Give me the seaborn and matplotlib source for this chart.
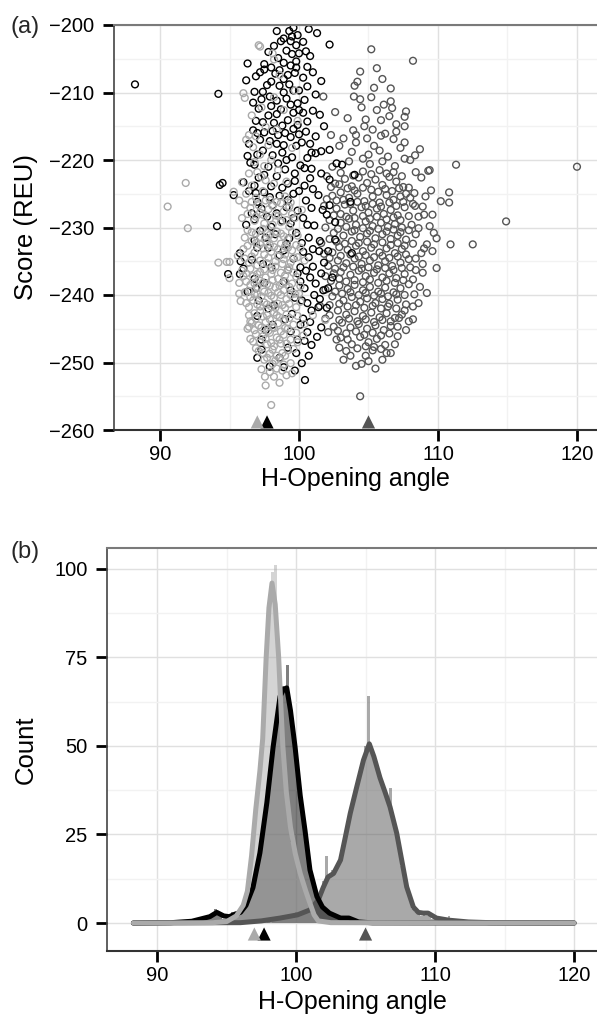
import numpy as np
import pandas as pd
import seaborn as sns
import matplotlib.pyplot as plt
from matplotlib.ticker import MultipleLocator

# group colours
c_dark = '#555555'
c_black = '#000000'
c_light = '#aaaaaa'

# ---- panel (a): H-opening angle vs score, one list per structure ----
dark_pts = [
    (105.2, -203.6), (108.2, -205.3), (104.4, -206.9), (105.6, -206.4), (104.2, -208.4), (105.4, -209.3),
    (106.6, -209.4), (101.75, -210.6), (103.95, -210.6), (104.4, -211.0), (105.2, -210.7), (104.5, -212.2),
    (106.6, -211.3), (106.7, -212.3), (107.7, -212.8), (106.5, -213.5), (102.6, -212.9), (107.6, -213.6),
    (107.6, -215.0), (105.9, -214.1), (103.9, -215.6), (104.1, -216.3), (104.7, -215.0), (105.3, -215.5),
    (106.2, -216.1), (102.3, -216.3), (102.9, -217.9), (104.1, -217.4), (105.4, -217.9), (105.8, -218.6),
    (107.6, -217.4), (107.3, -218.2), (108.7, -218.4), (108.35, -219.3), (108.0, -220.0), (109.3, -221.6),
    (109.4, -221.5), (111.3, -220.7), (120.0, -221.0), (108.4, -221.8), (106.4, -219.5), (104.6, -219.8),
    (103.6, -220.2), (102.4, -221.0), (105.1, -220.6), (106.9, -220.9),
    (103.5, -213.8), (104.8, -214.0), (105.6, -212.6), (106.1, -211.8), (107.0, -214.7), (103.2, -216.8),
    (104.9, -216.8), (105.9, -216.4), (106.8, -216.9), (103.8, -218.8), (105.0, -219.2), (106.0, -220.2),
    (107.6, -219.8), (107.0, -215.8), (104.0, -209.0), (106.0, -208.0),
    (109.5, -224.5), (108.0, -225.6), (108.35, -226.8), (110.2, -226.1), (110.8, -226.3), (110.8, -224.8),
    (109.6, -228.1), (108.6, -228.4), (109.0, -228.1), (114.9, -229.1),
    (108.8, -222.6), (109.1, -225.4), (108.9, -226.9), (109.4, -229.8), (109.6, -233.5), (108.9, -236.7),
    (109.2, -239.7), (108.6, -241.2), (108.2, -243.6), (109.7, -230.8),
    (102.0, -222.4), (102.6, -223.5), (103.3, -222.8), (103.8, -223.9), (104.3, -222.6), (104.9, -223.4),
    (105.5, -222.9), (106.0, -223.7), (106.5, -222.5), (107.0, -223.2), (107.5, -224.0), (102.4, -225.3),
    (103.0, -224.8), (103.6, -225.6), (104.2, -225.0), (104.7, -226.1), (105.3, -225.4), (105.8, -226.3),
    (106.3, -225.2), (106.8, -225.9), (107.3, -225.4), (107.9, -224.1), (101.8, -226.8), (102.7, -227.2),
    (103.3, -226.6), (103.9, -227.5), (104.5, -227.0), (105.0, -227.8), (105.6, -227.2), (106.1, -228.0),
    (106.6, -227.4), (107.1, -228.2), (107.6, -227.0), (102.2, -228.9), (103.0, -229.3), (103.6, -228.7),
    (104.1, -229.6), (104.8, -229.1), (105.3, -229.8), (105.9, -229.3), (106.4, -229.9), (106.9, -229.5),
    (107.4, -230.0), (108.1, -229.6),
    (103.0, -221.9), (103.9, -222.3), (104.6, -221.7), (105.2, -222.1), (105.8, -221.5), (106.3, -222.0),
    (106.8, -221.8), (107.4, -222.4), (102.3, -224.0), (102.9, -223.6), (103.5, -224.2), (104.0, -224.5),
    (104.6, -224.1), (105.2, -224.4), (105.7, -224.7), (106.2, -224.3), (106.7, -224.6), (107.2, -224.2),
    (107.7, -225.0), (108.3, -224.9), (102.0, -225.8), (102.7, -226.0), (103.2, -225.9), (103.7, -226.5),
    (104.2, -226.2), (104.8, -226.8), (105.3, -226.5), (105.9, -226.9), (106.5, -226.3), (107.0, -226.8),
    (107.5, -226.2), (108.2, -226.5), (102.5, -228.2), (103.0, -228.0), (103.4, -228.4), (104.0, -228.6),
    (104.6, -228.3), (105.1, -228.7), (105.6, -228.4), (106.3, -228.8), (106.8, -228.5), (107.3, -228.9),
    (107.9, -228.3),
    (102.5, -230.8), (103.2, -231.2), (103.8, -230.6), (104.4, -231.4), (104.9, -230.9), (105.5, -231.6),
    (106.0, -231.0), (106.6, -231.7), (107.1, -231.2), (107.7, -231.8), (108.4, -231.0), (109.2, -232.5),
    (109.9, -231.6), (110.9, -232.5), (112.5, -232.5), (101.6, -232.3), (102.9, -232.9), (103.5, -233.3),
    (104.1, -232.7), (104.6, -233.5), (105.2, -233.0), (105.8, -233.7), (106.3, -233.1), (106.9, -233.8),
    (107.4, -233.2), (108.8, -233.8), (102.2, -234.5), (102.8, -234.9), (103.4, -235.3), (104.0, -234.6),
    (104.5, -235.4), (105.1, -234.9), (105.7, -235.6), (106.2, -235.0), (106.7, -235.7), (107.3, -235.2),
    (107.9, -234.7), (109.9, -236.0), (108.4, -236.3), (103.0, -236.6), (103.7, -237.0), (104.3, -236.4),
    (104.8, -237.2), (105.4, -236.7), (106.0, -237.4), (106.5, -236.8), (107.0, -237.5), (107.6, -236.9),
    (101.9, -237.2), (102.5, -236.8),
    (101.9, -230.0), (102.8, -230.2), (103.4, -229.9), (104.0, -230.4), (104.6, -230.1), (105.1, -230.5),
    (105.7, -230.2), (106.3, -230.6), (106.8, -230.3), (107.3, -230.7), (107.9, -230.4), (108.6, -230.1),
    (102.2, -231.7), (102.7, -232.1), (103.3, -232.4), (103.8, -232.0), (104.3, -232.3), (104.9, -232.1),
    (105.4, -232.5), (106.0, -232.2), (106.6, -232.6), (107.1, -232.3), (107.6, -232.7), (108.2, -232.4),
    (109.0, -233.1), (101.8, -233.9), (102.4, -233.7), (103.0, -234.2), (103.7, -234.0), (104.3, -234.3),
    (104.8, -234.1), (105.4, -234.4), (106.0, -234.2), (106.5, -234.5), (107.1, -234.3), (107.7, -234.0),
    (108.4, -234.6), (102.1, -235.7), (102.6, -236.1), (103.2, -235.9), (103.9, -235.8), (104.5, -236.1),
    (105.0, -235.9), (105.6, -236.2), (106.2, -236.0), (106.8, -236.3), (107.4, -236.0), (108.0, -235.9),
    (108.9, -235.4),
    (108.7, -238.8), (102.9, -238.6), (103.5, -239.1), (104.0, -238.5), (104.6, -239.3), (105.1, -238.8),
    (105.7, -239.5), (106.2, -238.9), (106.8, -239.6), (107.3, -239.0), (107.9, -238.4), (102.4, -240.2),
    (103.2, -240.8), (103.8, -240.3), (104.4, -241.0), (104.9, -240.5), (105.5, -241.2), (106.0, -240.6),
    (106.5, -241.3), (107.1, -240.7), (107.7, -241.4), (108.2, -241.7), (101.5, -241.6), (102.8, -242.3),
    (103.4, -242.9), (104.0, -242.4), (104.6, -243.1), (105.2, -242.6), (105.8, -243.3), (106.3, -242.7),
    (106.9, -243.4), (107.4, -242.9), (102.5, -244.7), (103.1, -244.1), (103.7, -244.8), (104.3, -244.3),
    (104.9, -245.0), (105.5, -244.5), (106.1, -245.2), (106.6, -244.6), (107.1, -244.7), (107.7, -245.2),
    (101.9, -243.5),
    (102.3, -237.9), (102.9, -237.6), (103.4, -238.0), (104.0, -237.8), (104.6, -238.1), (105.1, -237.7),
    (105.7, -238.2), (106.3, -237.9), (106.9, -238.2), (107.5, -237.8), (108.2, -237.7), (101.9, -239.2),
    (102.6, -239.5), (103.1, -239.8), (103.7, -239.6), (104.3, -240.0), (104.8, -239.7), (105.4, -240.1),
    (105.9, -239.8), (106.4, -240.2), (107.0, -239.9), (107.6, -240.0), (108.3, -239.9), (102.2, -241.5),
    (102.9, -241.3), (103.5, -241.7), (104.1, -241.5), (104.7, -241.9), (105.3, -241.6), (105.9, -242.0),
    (106.4, -241.7), (107.0, -242.0), (107.6, -242.3), (102.2, -243.0), (102.9, -243.7), (103.6, -243.5),
    (104.2, -243.9), (104.8, -243.6), (105.4, -244.0), (106.0, -243.7), (106.6, -243.9), (107.2, -243.4),
    (107.9, -243.9), (102.1, -245.5), (102.8, -245.3), (103.4, -245.7), (104.1, -245.4), (104.7, -245.9),
    (105.3, -245.6), (105.9, -246.0), (106.5, -245.7), (107.1, -246.1),
    (102.7, -246.6), (103.0, -246.3), (103.5, -246.6), (103.8, -247.3), (104.4, -246.2), (105.0, -247.0),
    (105.6, -246.5), (106.2, -247.4), (106.6, -248.6), (106.3, -248.6), (103.7, -249.0), (104.8, -249.0),
    (105.3, -248.2), (105.5, -250.9), (104.4, -255.0), (104.1, -250.5), (106.0, -249.6),
    (102.9, -247.8), (103.4, -248.3), (104.2, -247.9), (104.8, -247.6), (105.4, -247.7), (105.9, -248.0),
    (106.9, -247.3), (103.2, -249.6), (104.5, -250.2), (105.0, -249.8),
]

black_pts = [
    (99.6, -200.4), (98.7, -202.4), (99.5, -201.7), (99.4, -202.4), (98.2, -203.1), (100.3, -202.5),
    (101.3, -201.2), (102.2, -202.9), (100.0, -204.2), (99.1, -203.8), (98.5, -204.9), (99.8, -205.4),
    (97.5, -205.8), (96.3, -205.7), (100.8, -204.6), (99.3, -200.9),
    (98.4, -200.9), (99.9, -201.5), (100.7, -200.6), (98.9, -202.0), (99.8, -203.0), (100.5, -203.9),
    (97.8, -204.0), (98.9, -205.6), (99.5, -204.3), (98.0, -206.3), (99.4, -206.0), (100.6, -206.2),
    (97.2, -207.0), (98.6, -206.7), (99.7, -207.1), (101.0, -207.0), (97.7, -208.9), (99.3, -208.8),
    (100.6, -209.1), (101.2, -210.3), (98.9, -210.0), (97.3, -211.0), (100.4, -211.1), (98.0, -212.0),
    (99.4, -211.8), (100.0, -212.6), (98.4, -213.2), (101.5, -213.3), (97.4, -214.4), (98.8, -214.9),
    (100.6, -214.3), (99.6, -215.4), (97.0, -216.0), (98.1, -215.7), (99.0, -216.0), (100.0, -216.2),
    (101.8, -215.0), (96.4, -217.6), (98.4, -217.6), (99.8, -217.9), (100.8, -217.6),
    (99.8, -206.3), (97.5, -206.6), (96.9, -207.6), (96.2, -208.2), (100.3, -207.8), (101.6, -208.3),
    (98.3, -207.2), (98.9, -208.0), (99.2, -207.4), (98.6, -209.0), (100.0, -209.7), (99.6, -209.7),
    (96.8, -209.9), (97.4, -209.9), (97.9, -210.6), (96.7, -211.5), (98.4, -211.2), (99.1, -210.9),
    (99.9, -211.6), (94.2, -210.2), (88.2, -208.8), (98.0, -208.4),
    (97.1, -212.4), (101.0, -212.7), (100.3, -213.0), (99.6, -213.0), (98.7, -212.5), (97.8, -213.4),
    (96.9, -214.2), (98.2, -214.5), (99.2, -214.1), (99.9, -214.8), (100.5, -215.8), (96.7, -215.6),
    (97.5, -215.9), (98.5, -216.3), (99.4, -216.6), (97.9, -217.2), (100.2, -217.4), (98.9, -217.8),
    (97.2, -217.0), (101.2, -216.5),
    (96.3, -219.4), (96.5, -220.4), (96.8, -220.7), (100.9, -218.9), (101.6, -218.7), (102.2, -218.5),
    (101.2, -219.0), (100.6, -219.7), (102.7, -220.5), (103.1, -220.7), (97.4, -218.6), (98.1, -219.3),
    (98.8, -218.9), (99.5, -219.6), (100.1, -220.8), (97.8, -221.0), (99.0, -221.4), (99.7, -222.0),
    (100.9, -221.3), (98.4, -222.4), (97.1, -222.6), (104.0, -222.2), (102.2, -222.9), (96.0, -223.3),
    (94.3, -223.7), (94.5, -223.4), (99.2, -223.5), (100.4, -223.8), (98.0, -223.9),
    (97.0, -219.2), (99.1, -220.0), (100.4, -221.2), (98.5, -220.5), (97.5, -222.2), (99.7, -223.1),
    (101.6, -222.0), (100.8, -222.7), (96.8, -223.8), (98.8, -224.1), (100.0, -224.6), (101.0, -224.3),
    (97.9, -225.5), (99.2, -225.9), (96.9, -224.9), (100.9, -227.1), (98.4, -227.9), (101.7, -227.4),
    (97.3, -227.2), (99.6, -228.6), (100.6, -229.6), (98.0, -229.9), (96.8, -228.8), (102.6, -229.2),
    (95.3, -225.2), (96.4, -224.6), (97.5, -224.8), (98.6, -225.3), (99.6, -225.0), (101.4, -225.2),
    (100.5, -226.0), (97.0, -226.2), (98.1, -226.7), (102.2, -226.7), (103.7, -226.2), (99.1, -227.0),
    (99.9, -227.5), (96.6, -227.9), (102.0, -228.1), (100.3, -228.6), (97.7, -228.4), (98.8, -229.0),
    (94.1, -229.8), (96.2, -229.6), (99.4, -229.4), (101.1, -229.7),
    (97.2, -230.5), (98.3, -231.0), (99.8, -230.8), (100.7, -231.5), (96.8, -231.9), (101.5, -232.0),
    (99.1, -232.4), (97.8, -233.0), (100.3, -233.6), (101.45, -233.5), (102.1, -233.5), (103.8, -233.8),
    (95.75, -233.8), (98.6, -234.1), (99.6, -234.6), (95.8, -235.0), (96.6, -234.8), (101.0, -235.8),
    (97.4, -235.4), (100.1, -235.9),
    (97.6, -231.5), (99.3, -231.6), (100.2, -232.3), (101.0, -233.2), (98.9, -233.4), (97.0, -233.0),
    (102.6, -231.8), (100.7, -234.4), (101.8, -235.2), (98.0, -235.9), (99.2, -236.3), (100.5, -236.4),
    (101.6, -236.8), (97.5, -238.2), (100.1, -238.0), (102.4, -237.4), (99.4, -239.3), (96.9, -239.0),
    (96.0, -236.1), (94.9, -236.9), (95.75, -236.9), (99.9, -236.8), (100.8, -237.4), (96.8, -237.6),
    (98.9, -238.0), (101.2, -238.3), (100.4, -239.0), (96.3, -239.5), (101.75, -239.3), (102.1, -239.0),
    (101.1, -240.0), (99.7, -240.4), (97.1, -240.8), (100.6, -241.2), (98.2, -241.5), (101.4, -241.8),
    (101.5, -240.6), (100.2, -240.8), (97.8, -242.0), (100.9, -242.3), (102.0, -241.9), (99.0, -243.6),
    (100.8, -244.0), (98.1, -244.4), (97.3, -246.6), (100.4, -246.8), (101.6, -244.8), (99.4, -245.4),
    (100.3, -243.5), (100.1, -244.4), (97.0, -243.1), (99.5, -242.8), (100.6, -245.5), (101.3, -246.2),
    (97.6, -245.2), (99.9, -246.6), (100.9, -247.4), (97.3, -248.1), (99.8, -248.6), (98.6, -249.3),
    (97.9, -250.6), (100.43, -252.6), (99.2, -247.8), (100.2, -250.1),
    (98.9, -250.7), (97.0, -249.3), (100.7, -249.0), (99.7, -251.2),
]

light_pts = [
    (97.1, -203.0), (97.2, -203.2), (98.1, -204.2), (98.2, -205.1), (98.6, -207.4), (96.0, -210.1),
    (96.1, -210.8), (98.2, -210.7), (97.3, -212.2), (98.9, -212.6), (96.2, -217.0), (96.4, -216.3),
    (97.6, -215.1), (98.4, -215.5), (96.7, -218.1), (97.2, -219.2), (99.5, -218.2), (98.0, -220.0),
    (95.9, -223.3), (95.3, -224.7), (96.4, -222.0), (97.0, -221.8), (97.6, -223.0), (98.5, -221.5),
    (91.85, -223.4), (90.55, -226.9), (92.0, -230.1), (99.9, -214.2), (99.7, -209.7),
    (96.8, -220.3), (97.5, -220.9), (96.6, -223.8), (98.2, -223.5), (99.1, -223.2), (97.3, -222.5),
    (96.1, -226.6), (99.4, -226.3), (95.7, -226.0), (96.9, -216.5), (97.8, -217.8), (96.6, -213.4),
    (96.2, -225.0), (96.9, -225.6), (97.4, -224.6), (97.9, -225.9), (98.4, -226.2), (99.0, -225.4),
    (96.5, -227.1), (97.2, -227.8), (97.8, -227.3), (98.3, -228.2), (98.9, -227.6), (99.5, -228.0),
    (96.8, -229.0), (97.5, -229.4), (98.1, -229.6), (98.7, -229.2), (99.3, -229.9), (100.2, -227.4),
    (95.9, -228.6),
    (96.6, -226.2), (97.1, -226.7), (97.6, -226.0), (98.1, -226.8), (98.7, -226.4), (99.3, -226.9),
    (96.3, -228.0), (96.9, -228.4), (97.4, -228.1), (97.9, -228.7), (98.5, -228.3), (99.1, -228.9),
    (99.7, -228.6),
    (96.3, -230.4), (96.9, -230.9), (97.4, -230.2), (97.9, -231.1), (98.4, -230.6), (98.9, -231.3),
    (99.5, -230.7), (96.6, -232.0), (97.2, -232.5), (97.7, -232.2), (98.2, -232.9), (98.7, -232.4),
    (99.2, -233.0), (99.8, -232.6), (96.0, -233.2), (96.8, -233.7), (97.5, -234.0), (98.0, -233.6),
    (98.5, -234.3), (99.0, -234.0), (99.6, -234.5), (96.4, -235.2), (97.0, -235.6), (97.7, -235.3),
    (98.3, -235.8), (98.8, -235.4), (99.3, -235.9), (94.8, -235.1), (95.0, -235.1), (94.2, -235.2),
    (100.4, -234.9), (95.6, -234.2),
    (96.1, -231.5), (96.6, -230.7), (97.2, -231.4), (97.7, -230.8), (98.2, -231.6), (98.7, -230.9),
    (99.2, -231.7), (99.9, -231.2), (96.3, -232.7), (96.9, -232.3), (97.4, -233.1), (97.9, -232.6),
    (98.5, -233.2), (99.0, -232.8), (99.5, -233.4), (100.1, -233.0), (96.1, -234.6), (96.6, -234.3),
    (97.2, -234.9), (97.8, -234.5), (98.3, -235.0), (98.9, -234.7), (99.4, -235.2), (99.9, -234.4),
    (95.0, -237.5), (95.7, -238.2), (96.2, -236.8), (96.7, -237.2), (97.2, -236.6), (97.6, -237.4),
    (98.0, -236.9), (98.5, -237.6), (99.0, -237.1), (99.6, -236.7), (96.5, -238.5), (97.0, -238.8),
    (97.4, -238.2), (97.9, -238.6), (98.3, -238.9), (98.8, -238.3), (99.3, -238.8), (96.1, -239.6),
    (96.8, -239.9), (97.3, -240.2), (97.8, -239.7), (98.2, -240.4), (98.7, -240.0), (99.1, -240.6),
    (99.7, -239.8), (96.5, -240.3), (96.4, -241.8), (97.0, -241.4), (97.5, -241.1), (98.0, -241.7),
    (98.5, -241.3), (99.0, -241.9), (100.1, -241.0), (95.8, -240.9),
    (95.9, -236.4), (96.5, -236.1), (97.0, -236.9), (97.5, -236.2), (98.1, -236.3), (98.7, -236.7),
    (99.2, -236.3), (99.8, -237.3), (96.2, -238.0), (96.8, -238.3), (97.2, -237.9), (97.7, -238.4),
    (98.1, -237.8), (98.6, -238.6), (99.0, -238.0), (99.5, -238.3), (100.1, -238.7), (95.7, -239.8),
    (96.4, -239.4), (97.0, -239.9), (97.5, -239.5), (98.0, -240.1), (98.5, -239.6), (98.9, -239.3),
    (99.4, -240.0), (100.0, -239.8), (96.2, -241.2), (96.7, -240.8), (97.2, -241.7), (97.7, -241.4),
    (98.3, -241.9), (98.8, -241.5), (99.3, -241.3), (99.8, -241.8), (96.0, -237.2),
    (96.8, -242.7), (97.2, -242.4), (97.7, -243.0), (98.2, -242.6), (98.6, -243.3), (99.1, -242.9),
    (101.0, -243.0), (101.9, -243.7), (96.6, -244.1), (97.1, -244.5), (97.6, -244.0), (98.1, -244.8),
    (98.5, -244.2), (99.0, -244.9), (99.6, -244.4), (96.9, -245.8), (97.4, -246.1), (97.9, -245.6),
    (98.4, -246.3), (98.9, -245.9), (99.4, -246.6), (96.7, -246.9), (97.7, -247.3), (98.2, -247.6),
    (98.7, -247.2), (99.6, -248.0), (100.3, -246.0), (96.3, -245.0),
    (96.4, -243.0), (96.9, -243.5), (97.4, -243.2), (97.9, -243.6), (98.4, -243.0), (98.9, -243.7),
    (99.3, -243.4), (99.9, -243.1), (100.4, -244.3), (96.4, -244.7), (96.8, -245.2), (97.3, -244.8),
    (97.8, -245.3), (98.2, -244.9), (98.7, -245.4), (99.2, -245.0), (99.8, -245.6), (96.5, -246.5),
    (97.2, -247.0), (97.6, -246.5), (98.0, -247.1), (98.6, -246.6), (99.1, -247.2), (99.9, -247.0),
    (96.5, -243.9),
    (97.1, -248.3), (97.9, -248.7), (98.4, -249.0), (99.0, -249.0), (98.6, -249.4), (99.4, -250.1),
    (97.5, -249.6), (98.4, -250.9), (99.5, -251.6), (97.55, -252.1), (97.6, -253.4), (98.2, -252.1),
    (98.0, -256.3), (98.8, -251.2), (98.1, -250.2), (97.3, -251.0), (98.6, -253.0),
    (96.9, -247.9), (97.4, -248.6), (98.1, -248.1), (98.8, -248.6), (99.2, -248.2), (97.7, -249.3),
    (98.3, -249.7), (98.9, -250.3), (97.9, -251.4), (99.1, -251.9),
]

# reference (native) angles shown as triangles
ref_angles = [105.0, 97.7, 97.0]
ref_colors = [c_dark, c_black, c_light]

# ---- panel (b): histogram counts (bin width 0.2, first bin centre given) ----
dark_hist_start = 98.0
dark_hist = [1, 0, 1, 1, 2, 1, 2, 1, 2, 2,
             3, 2, 3, 3, 4, 4, 5, 6, 7, 9,
             12, 19, 13, 15, 14, 16, 18, 21, 26, 29,
             33, 36, 38, 44, 45, 50, 64, 49, 46, 44,
             42, 39, 36, 34, 38, 28, 25, 21, 16, 12,
             9, 7, 4, 3, 3, 2, 3, 2, 3, 1,
             1, 1, 1, 0, 1, 2, 0]
black_hist_start = 93.0
black_hist = [1, 0, 1, 2, 1, 2, 4, 3, 2, 1,
              1, 2, 3, 2, 2, 3, 4, 5, 7, 9,
              12, 15, 20, 25, 31, 37, 45, 51, 57, 62,
              67, 66, 73, 60, 53, 47, 39, 32, 26, 20,
              15, 11, 8, 6, 5, 4, 3, 3, 2, 2,
              1, 2, 1, 1, 2, 1]
light_hist_start = 95.5
light_hist = [1, 2, 2, 4, 6, 9, 14, 22, 33, 40,
              51, 63, 77, 92, 99, 101, 80, 61, 48, 36,
              30, 23, 20, 16, 14, 11, 9, 6, 4, 2, 1]

# density curves (scaled to counts)
dark_curve_x = [88.3, 96.0, 97.5, 98.85, 100.1, 101.0, 101.6, 101.95, 102.3, 102.7, 103.2, 103.5, 103.9,
                104.37, 104.85, 105.27, 105.6, 106.04, 106.4, 106.76, 107.24, 107.6, 107.96, 108.44,
                108.8, 109.15, 109.5, 110.1, 111.0, 112.4, 114.0, 120.0]
dark_curve_y = [0, 0.1, 0.6, 1.4, 2.3, 3.7, 6.5, 10, 13, 14, 17.8, 23.4, 31,
                38.5, 46, 50.6, 47, 41, 37, 32.8, 25.4, 17.8, 10.2, 4.5,
                3.0, 2.8, 2.8, 1.4, 0.8, 0.3, 0.1, 0]
black_curve_x = [88.3, 91.0, 92.5, 93.2, 93.8, 94.3, 94.8, 95.2, 95.6, 96.0, 96.4, 96.9, 97.4, 97.9,
                 98.35, 98.85, 99.1, 99.33, 99.6, 99.93, 100.3, 100.65, 101.0, 101.5, 101.9, 102.4,
                 103.2, 103.8, 104.5, 105.5, 120.0]
black_curve_y = [0, 0.1, 0.5, 1.2, 1.8, 3.0, 2.0, 1.8, 2.5, 3.0, 5.0, 10, 19.8, 34,
                 49.7, 64, 66, 66.4, 60, 49.7, 36, 26, 15, 7.5, 4.5, 2.8,
                 1.4, 1.4, 0.3, 0.05, 0]
light_curve_x = [88.3, 94.0, 95.0, 95.7, 96.2, 96.5, 96.8, 97.1, 97.4, 97.6, 97.85, 98.05, 98.27,
                 98.5, 98.75, 98.9, 99.05, 99.3, 99.6, 99.95, 100.3, 100.7, 101.0, 101.3, 101.6,
                 102.5, 120.0]
light_curve_y = [0, 0.1, 0.4, 2, 5, 9, 19, 32, 43, 52, 75, 89, 96,
                 90, 75, 62, 50, 37, 27, 19.5, 14, 9, 5.6, 2.3, 0.6,
                 0.1, 0]

BIN_W = 0.2


def style_axis(ax, ymajor, yminor):
    ax.xaxis.set_major_locator(MultipleLocator(10))
    ax.xaxis.set_minor_locator(MultipleLocator(5))
    ax.yaxis.set_major_locator(MultipleLocator(ymajor))
    ax.yaxis.set_minor_locator(MultipleLocator(yminor))
    ax.set_axisbelow(True)
    ax.grid(which='major', color='#e0e0e0', linewidth=1.0)
    ax.grid(which='minor', color='#f2f2f2', linewidth=1.0)
    ax.tick_params(axis='both', which='major', direction='out', length=8, width=2,
                   color='black', labelsize=14.5, bottom=True, left=True,
                   labelcolor='black')
    ax.tick_params(axis='x', which='major', pad=3)
    ax.tick_params(axis='y', which='major', pad=6)
    ax.tick_params(axis='both', which='minor', length=0, width=0)
    ax.spines['top'].set_visible(True)
    ax.spines['top'].set_color('#7a7a7a')
    ax.spines['top'].set_linewidth(1.5)
    ax.spines['right'].set_visible(False)
    ax.spines['left'].set_color('#444444')
    ax.spines['left'].set_linewidth(1.2)
    ax.spines['bottom'].set_color('#333333')
    ax.spines['bottom'].set_linewidth(1.5)


sns.set_theme(style='white')
plt.rcParams['font.family'] = ['Liberation Sans', 'DejaVu Sans']

W, H = 597, 1018
fig = plt.figure(figsize=(W / 100, H / 100), dpi=100)
ax1 = fig.add_axes([114 / W, 1 - 430 / H, (W - 114) / W, 405 / H])
ax2 = fig.add_axes([107 / W, 1 - 951 / H, (W - 107) / W, 403 / H])

# panel (a)
for pts, col in [(dark_pts, c_dark), (black_pts, c_black), (light_pts, c_light)]:
    df = pd.DataFrame(pts, columns=['angle', 'score'])
    sns.scatterplot(data=df, x='angle', y='score', ax=ax1, marker='o', s=24,
                    facecolor='none', edgecolor=col, linewidth=1.0)
for a, col in zip(ref_angles, ref_colors):
    sns.scatterplot(x=[a], y=[-258.8], ax=ax1, marker='^', s=90, color=col,
                    edgecolor='none', linewidth=0, clip_on=False, zorder=5)
ax1.set_xlim(86.69, 121.44)
ax1.set_ylim(-260, -200)
style_axis(ax1, 10, 5)

# panel (b)
groups = [
    (dark_hist_start, dark_hist, dark_curve_x, dark_curve_y, c_dark),
    (black_hist_start, black_hist, black_curve_x, black_curve_y, c_black),
    (light_hist_start, light_hist, light_curve_x, light_curve_y, c_light),
]
for start, counts, cx, cy, col in groups:
    centres = start + BIN_W * np.arange(len(counts))
    hdf = pd.DataFrame({'angle': centres, 'count': counts})
    sns.histplot(data=hdf, x='angle', weights='count', binwidth=BIN_W,
                 binrange=(start - BIN_W / 2, centres[-1] + BIN_W / 2), ax=ax2,
                 color=col, alpha=0.5, edgecolor='none', linewidth=0)
    sns.lineplot(x=cx, y=cy, ax=ax2, color=col, linewidth=3.6, estimator=None,
                 solid_capstyle='round')
for a, col in zip(ref_angles, ref_colors):
    sns.scatterplot(x=[a], y=[-3.1], ax=ax2, marker='^', s=90, color=col,
                    edgecolor='none', linewidth=0, zorder=5)
ax2.set_xlim(86.40, 121.65)
ax2.set_ylim(-7.9, 105.9)
style_axis(ax2, 25, 12.5)

# labels
for ax, ylab in [(ax1, 'Score (REU)'), (ax2, 'Count')]:
    ax.set_xlabel('H-Opening angle', fontsize=18, color='black')
    ax.set_ylabel(ylab, fontsize=18.5, color='black')
ax1.xaxis.set_label_coords(0.5, -0.0925)
ax2.xaxis.set_label_coords(0.5, -0.098)
ax1.yaxis.set_label_coords(-0.157, 0.5)
ax2.yaxis.set_label_coords(-0.141, 0.5)

fig.text(10 / W, 1 - 27 / H, '(a)', fontsize=17, va='center', ha='left')
fig.text(10 / W, 1 - 552 / H, '(b)', fontsize=17, va='center', ha='left')

fig.savefig('out.png', dpi=100)
plt.close(fig)
